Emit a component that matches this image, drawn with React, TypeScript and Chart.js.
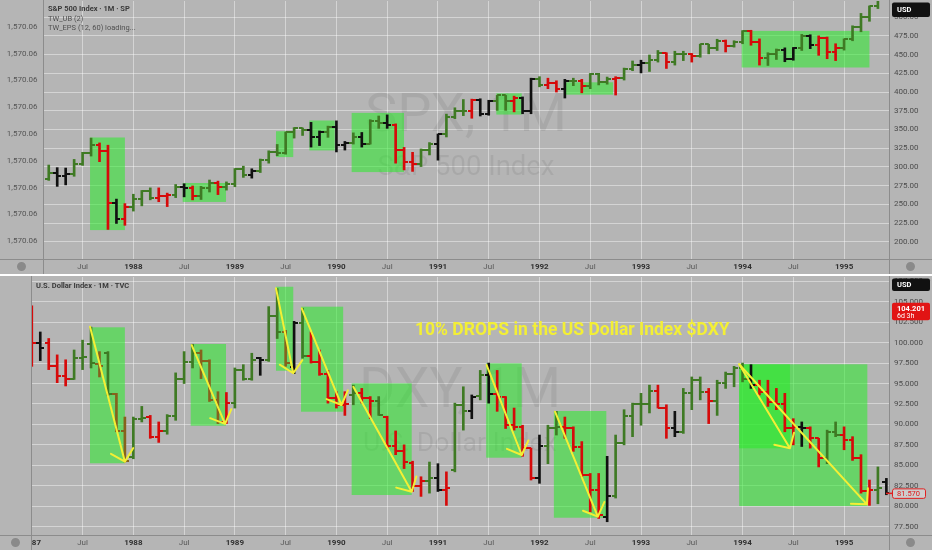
import React, { useEffect, useRef } from 'react';
import { Chart, registerables } from 'chart.js';

Chart.register(...registerables);

// ---------------- DATA ----------------
// month index 0 = Jan 1987
const xTickMonths = [0, 6, 12, 18, 24, 30, 36, 42, 48, 54, 60, 66, 72, 78, 84, 90, 96];
const xTickLabels = ['1987', 'Jul', '1988', 'Jul', '1989', 'Jul', '1990', 'Jul', '1991', 'Jul', '1992', 'Jul', '1993', 'Jul', '1994', 'Jul', '1995'];

const spxTicks = [200, 225, 250, 275, 300, 325, 350, 375, 400, 425, 450, 475, 500];
const spxLeftTicks = [0, 1, 2, 3, 4, 5, 6, 7, 8];
const spxLeftLabel = '1,570.06';
const dxyTicks = [77.5, 80, 82.5, 85, 87.5, 90, 92.5, 95, 97.5, 100, 102.5, 105, 107.5];

const spxOpen = [242.2, 274.1, 284.2, 291.6, 288.4, 290.1, 304.0, 318.7, 329.8, 321.8, 251.8, 230.3,
  247.1, 257.1, 267.8, 258.9, 261.3, 262.2, 273.5, 272.0, 261.5, 271.9, 279.0, 273.7,
  277.7, 297.5, 288.9, 294.9, 309.6, 320.5, 318.0, 346.1, 351.5, 349.2, 340.4, 346.0,
  353.4, 329.1, 331.9, 339.9, 330.8, 361.2, 358.0, 356.2, 322.6, 306.1, 304.0, 322.2,
  330.2, 343.9, 367.1, 375.2, 375.3, 389.8, 371.2, 387.8, 395.4, 387.9, 392.5, 375.2,
  417.0, 408.8, 412.7, 403.7, 415.0, 415.4, 408.1, 424.2, 414.0, 417.8, 418.7, 431.4,
  435.7, 438.8, 443.4, 451.7, 440.2, 450.2, 450.5, 448.1, 463.6, 458.9, 467.8, 461.8,
  466.5, 481.6, 467.1, 445.7, 450.9, 456.5, 444.3, 458.3, 475.5, 462.7, 472.4, 453.7,
  459.3, 470.4, 487.4, 500.7, 514.7, 533.4];
const spxHigh = [281.0, 285.5, 302.5, 299.0, 298.5, 310.0, 319.5, 338.5, 332.0, 329.0, 257.0, 251.0,
  263.5, 268.5, 272.0, 272.0, 265.0, 276.5, 277.5, 274.5, 274.0, 282.5, 281.0, 280.0,
  297.8, 301.0, 297.5, 310.5, 321.5, 330.0, 346.5, 352.5, 352.0, 359.5, 348.0, 354.5,
  361.5, 334.0, 345.5, 346.0, 363.0, 368.0, 369.5, 357.5, 326.0, 319.5, 324.0, 332.5,
  344.0, 370.5, 379.0, 390.0, 390.5, 391.0, 389.0, 395.5, 395.5, 394.5, 393.5, 418.5,
  420.5, 418.5, 415.0, 417.0, 418.5, 417.0, 424.8, 425.0, 420.0, 420.5, 432.0, 441.5,
  442.5, 449.5, 455.5, 452.5, 454.5, 454.5, 451.5, 464.0, 463.8, 470.5, 469.5, 468.5,
  482.0, 482.5, 471.0, 452.5, 457.5, 459.0, 459.5, 477.0, 476.5, 475.0, 473.5, 464.5,
  471.0, 488.5, 505.0, 515.0, 535.0, 551.0];
const spxLow = [242.2, 264.5, 282.0, 274.0, 276.0, 287.5, 302.0, 314.5, 307.0, 216.5, 224.5, 222.0,
  241.0, 248.0, 256.0, 253.5, 247.0, 259.0, 260.0, 256.0, 256.5, 266.5, 263.0, 269.0,
  273.5, 286.0, 285.0, 292.5, 305.0, 315.0, 317.0, 338.5, 342.0, 326.5, 328.5, 339.5,
  320.0, 322.5, 330.5, 326.5, 330.5, 351.5, 351.5, 305.0, 296.0, 294.0, 300.5, 316.0,
  309.0, 340.0, 364.5, 368.5, 365.0, 368.0, 369.0, 375.5, 375.5, 373.5, 371.0, 371.0,
  407.0, 404.5, 400.0, 392.0, 408.5, 399.0, 404.5, 409.5, 410.5, 396.0, 416.0, 428.5,
  425.5, 427.5, 440.0, 431.5, 436.0, 442.0, 440.0, 446.5, 451.0, 455.5, 453.5, 460.0,
  464.5, 462.5, 436.0, 435.5, 443.5, 440.5, 442.5, 455.5, 458.0, 449.0, 444.5, 442.0,
  456.0, 468.5, 480.5, 494.5, 511.5, 528.5];
const spxClose = [274.1, 284.2, 291.7, 288.4, 290.1, 304.0, 318.7, 329.8, 321.8, 251.8, 230.3, 247.1,
  257.1, 267.8, 258.9, 261.3, 262.2, 273.5, 272.0, 261.5, 271.9, 279.0, 273.7, 277.7,
  297.5, 288.9, 294.9, 309.6, 320.5, 318.0, 346.1, 351.5, 349.2, 340.4, 346.0, 353.4,
  329.1, 331.9, 339.9, 330.8, 361.2, 358.0, 356.2, 322.6, 306.1, 304.0, 322.2, 330.2,
  343.9, 367.1, 375.2, 375.3, 389.8, 371.2, 387.8, 395.4, 387.9, 392.5, 375.2, 417.1,
  408.8, 412.7, 403.7, 415.0, 415.4, 408.1, 424.2, 414.0, 417.8, 418.7, 431.4, 435.7,
  438.8, 443.4, 451.7, 440.2, 450.2, 450.5, 448.1, 463.6, 458.9, 467.8, 461.8, 466.5,
  481.6, 467.1, 445.7, 450.9, 456.5, 444.3, 458.3, 475.5, 462.7, 472.4, 453.7, 459.3,
  470.4, 487.4, 500.7, 514.7, 533.4, 544.8];
// g = green, r = red, k = black, o = olive
const spxColors = 'gggkkgggrrkr' + 'gggrrgkrggrg' + 'ggkggggggkkg' + 'kkgkggkrrrgg' +
  'kgggrkkggrkk' + 'grrkgrgggrgg' + 'kggrggrgggrg' + 'grrggkkgkrrr' + 'gggggg';

const dxyOpen = [103.5, 100.0, 100.0, 97.1, 95.9, 95.6, 98.1, 99.8, 97.4, 98.7, 93.7, 89.2,
  86.0, 90.6, 90.9, 88.5, 89.2, 91.0, 95.6, 97.6, 98.7, 97.7, 93.0, 90.3,
  92.6, 96.7, 95.6, 98.1, 97.9, 103.2, 101.3, 97.0, 102.4, 98.4, 97.6, 96.2,
  93.2, 92.4, 93.6, 93.8, 93.2, 92.9, 90.9, 87.3, 86.7, 85.3, 82.5, 83.1,
  83.5, 82.0, 84.4, 92.4, 91.6, 93.5, 96.0, 93.7, 93.3, 89.9, 89.7, 87.1,
  83.4, 87.3, 89.5, 89.7, 89.5, 87.2, 83.8, 82.0, 78.7, 81.2, 87.7, 91.0,
  92.5, 92.5, 94.1, 92.0, 89.5, 89.1, 93.8, 95.4, 94.0, 92.9, 95.1, 96.2,
  96.9, 95.6, 94.8, 94.0, 92.7, 92.5, 89.5, 89.7, 89.5, 88.3, 85.9, 89.1,
  88.7, 88.1, 85.9, 81.8, 82.0, 83.0];
const dxyHigh = [104.5, 101.3, 100.5, 98.5, 97.9, 99.1, 100.3, 101.9, 98.9, 98.9, 93.8, 90.9,
  90.9, 92.2, 91.1, 90.3, 91.2, 96.3, 98.9, 99.8, 99.1, 97.9, 94.0, 93.9,
  96.9, 97.3, 98.7, 98.2, 104.4, 106.6, 101.5, 102.6, 104.2, 101.3, 99.1, 96.6,
  94.0, 94.0, 94.8, 94.4, 93.4, 93.4, 91.0, 89.2, 87.5, 85.5, 83.6, 85.4,
  85.2, 84.2, 92.6, 94.6, 93.6, 96.6, 97.5, 96.6, 93.4, 92.0, 89.9, 87.1,
  88.7, 89.9, 91.6, 90.9, 89.7, 87.9, 84.0, 84.0, 86.1, 88.7, 91.8, 92.6,
  93.8, 94.8, 94.8, 92.4, 91.6, 94.4, 95.8, 95.8, 94.4, 95.4, 96.4, 97.1,
  97.5, 97.3, 95.4, 95.4, 94.4, 93.8, 90.7, 90.3, 89.7, 88.3, 89.3, 90.3,
  89.7, 88.5, 86.3, 83.2, 84.8, 83.4];
const dxyLow = [97.1, 97.8, 96.7, 95.1, 94.7, 95.5, 96.7, 96.9, 95.8, 93.5, 89.1, 85.4,
  85.8, 90.3, 88.3, 87.8, 88.8, 90.5, 95.0, 96.9, 95.6, 92.8, 90.1, 90.1,
  92.0, 95.4, 95.4, 96.0, 97.7, 100.5, 97.1, 96.2, 98.1, 97.5, 96.0, 92.6,
  92.0, 91.1, 92.4, 92.6, 90.7, 91.1, 87.1, 86.3, 84.6, 81.8, 81.2, 81.6,
  81.8, 80.1, 84.2, 89.3, 90.7, 93.0, 92.6, 91.6, 89.5, 89.3, 86.1, 83.2,
  82.8, 85.2, 88.7, 88.3, 86.7, 83.6, 79.3, 78.5, 78.1, 81.0, 87.5, 88.5,
  89.9, 91.4, 92.0, 88.3, 88.5, 88.9, 91.8, 93.0, 90.1, 91.1, 94.4, 94.6,
  95.2, 94.4, 93.6, 92.2, 91.8, 89.1, 87.5, 87.3, 87.1, 84.8, 85.2, 88.5,
  86.9, 85.6, 81.6, 80.1, 80.3, 81.4];
const dxyClose = [100.0, 99.3, 97.1, 95.9, 95.6, 98.1, 98.2, 97.5, 97.2, 93.7, 89.2, 85.5,
  90.6, 90.8, 88.5, 89.2, 91.0, 95.6, 97.6, 98.7, 97.7, 93.0, 90.3, 92.6,
  96.7, 95.6, 97.9, 97.9, 103.2, 101.3, 97.5, 102.4, 98.4, 97.6, 96.2, 93.2,
  92.4, 92.5, 93.8, 93.2, 92.9, 91.2, 87.3, 86.7, 85.4, 82.5, 83.1, 83.5,
  82.0, 82.2, 92.4, 91.6, 93.3, 96.0, 93.7, 93.3, 89.9, 89.7, 87.1, 83.5,
  87.3, 89.5, 89.7, 89.5, 87.2, 83.8, 82.0, 78.9, 81.2, 87.7, 91.0, 92.5,
  92.5, 94.1, 92.0, 89.5, 89.1, 93.8, 95.4, 94.0, 92.9, 95.1, 96.2, 96.9,
  95.6, 94.8, 94.0, 92.7, 92.5, 89.5, 89.7, 89.5, 88.3, 85.9, 89.1, 88.7,
  88.1, 85.9, 81.8, 82.0, 82.2, 81.57];
const dxyColors = 'rkrrrgggogoo' + 'ggrrggggooor' + 'gggkggokgrrr' + 'rrgrrgrrrrrg' +
  'krggkgkrrrrr' + 'kggrrrrrkggg' + 'ggrrkgggrggg' + 'gkrrrrrkrrgg' + 'rrrrgk';

// highlight rectangles: [startMonth, endMonth, topValue, bottomValue]
const spxBoxes = [
  [6.88, 11.0, 339.3, 215.6],
  [17.83, 22.95, 278.5, 253.2],
  [28.86, 30.9, 347.7, 313.1],
  [32.8, 35.8, 362.0, 322.0],
  [37.8, 43.99, 372.2, 293.1],
  [54.9, 57.9, 398.3, 369.9],
  [63.0, 68.7, 413.0, 396.5],
  [83.9, 99.0, 481.7, 432.8],
];
const dxyBoxes = [
  [6.88, 11.0, 101.87, 85.25],
  [18.78, 22.95, 99.83, 89.84],
  [28.86, 30.9, 106.83, 96.56],
  [31.82, 36.8, 104.39, 91.55],
  [37.8, 44.9, 95.02, 81.37],
  [53.7, 57.9, 97.47, 85.93],
  [61.7, 67.9, 91.64, 78.59],
  [83.6, 98.75, 97.35, 80.02],
  [83.6, 89.6, 97.35, 87.08],
];
// drop arrows: [startMonth, startValue, endMonth, endValue]
const dxyArrows = [
  [6.88, 101.94, 11.0, 85.44],
  [18.9, 99.7, 22.84, 90.06],
  [28.86, 106.64, 30.9, 96.25],
  [31.9, 104.19, 36.6, 92.37],
  [38.0, 94.6, 44.9, 81.77],
  [53.76, 97.26, 57.9, 86.26],
  [61.84, 91.55, 66.9, 78.72],
  [83.6, 97.35, 89.6, 87.08],
  [83.6, 97.35, 98.7, 80.23],
];
const dxyLastPrice = 81.57;
const dxyLivePrice = 104.201;
const headline = '10% DROPS in the US Dollar Index $DXY';

// ---------------- STYLE ----------------
const FONT = 'Roboto, "Liberation Sans", sans-serif';
const BG = '#b5b5b5';
const GRID = 'rgba(255,255,255,0.42)';
const AXIS_LINE = '#8c8c8c';
const BAR_COLORS: Record<string, string> = { g: '#3f7a24', r: '#d60a0a', k: '#111111', o: '#86621c' };
const BOX_FILL = 'rgba(40,235,40,0.55)';
const ARROW = '#f3ef35';

function tickImage(color: string, side: 'open' | 'close') {
  const c = document.createElement('canvas');
  c.width = 8;
  c.height = 2;
  const g = c.getContext('2d')!;
  g.fillStyle = color;
  if (side === 'open') g.fillRect(0, 0, 4, 2);
  else g.fillRect(4, 0, 4, 2);
  return c;
}

function drawArrow(ctx: CanvasRenderingContext2D, x0: number, y0: number, x1: number, y1: number) {
  const ang = Math.atan2(y0 - y1, x0 - x1);
  const L = 16;
  const spread = (46 * Math.PI) / 180;
  ctx.beginPath();
  ctx.moveTo(x0, y0);
  ctx.lineTo(x1, y1);
  ctx.moveTo(x1 + L * Math.cos(ang - spread), y1 + L * Math.sin(ang - spread));
  ctx.lineTo(x1, y1);
  ctx.lineTo(x1 + L * Math.cos(ang + spread), y1 + L * Math.sin(ang + spread));
  ctx.stroke();
}

function badge(ctx: CanvasRenderingContext2D, x: number, y: number, w: number, h: number, fill: string, stroke?: string) {
  ctx.beginPath();
  (ctx as any).roundRect(x, y, w, h, 2);
  ctx.fillStyle = fill;
  ctx.fill();
  if (stroke) {
    ctx.strokeStyle = stroke;
    ctx.lineWidth = 1;
    ctx.stroke();
  }
}

function buildConfig(spec: any) {
  const n = spec.close.length;
  const openImgs: Record<string, HTMLCanvasElement> = {};
  const closeImgs: Record<string, HTMLCanvasElement> = {};
  Object.keys(BAR_COLORS).forEach((k) => {
    openImgs[k] = tickImage(BAR_COLORS[k], 'open');
    closeImgs[k] = tickImage(BAR_COLORS[k], 'close');
  });
  const colorKey = (i: number) => spec.colors[i] || 'g';
  const idx = Array.from({ length: n }, (_, i) => i);

  const plugin = {
    id: 'pane_' + spec.key,
    beforeDatasetsDraw(chart: any) {
      const { ctx, chartArea: a, scales } = chart;
      const xs = scales.x;
      const ys = scales.y;
      ctx.save();
      ctx.beginPath();
      ctx.rect(a.left, a.top, a.right - a.left, a.bottom - a.top);
      ctx.clip();
      const cx = (a.left + a.right) / 2;
      ctx.fillStyle = 'rgba(0,0,0,0.07)';
      ctx.textAlign = 'center';
      ctx.textBaseline = 'alphabetic';
      ctx.font = `50px ${FONT}`;
      const s1 = (50 * 202) / ctx.measureText(spec.watermark[0]).width;
      ctx.font = `${s1}px ${FONT}`;
      ctx.fillText(spec.watermark[0], cx, a.top + 130);
      ctx.font = `28px ${FONT}`;
      const s2 = (28 * spec.wm2Width) / ctx.measureText(spec.watermark[1]).width;
      ctx.font = `${s2}px ${FONT}`;
      ctx.fillText(spec.watermark[1], cx, a.top + 174);
      ctx.fillStyle = BOX_FILL;
      for (const [m0, m1, v0, v1] of spec.boxes) {
        const px0 = xs.getPixelForValue(m0);
        const px1 = xs.getPixelForValue(m1);
        const py0 = ys.getPixelForValue(v0);
        const py1 = ys.getPixelForValue(v1);
        ctx.fillRect(px0, py0, px1 - px0, py1 - py0);
      }
      ctx.restore();
    },
    afterDatasetsDraw(chart: any) {
      const { ctx, chartArea: a, scales } = chart;
      const xs = scales.x;
      const ys = scales.y;
      ctx.save();
      ctx.beginPath();
      ctx.rect(a.left, a.top, a.right - a.left, a.bottom - a.top);
      ctx.clip();
      ctx.strokeStyle = ARROW;
      ctx.lineWidth = 2;
      ctx.lineCap = 'round';
      ctx.lineJoin = 'round';
      for (const [m0, v0, m1, v1] of spec.arrows) {
        drawArrow(ctx, xs.getPixelForValue(m0), ys.getPixelForValue(v0), xs.getPixelForValue(m1), ys.getPixelForValue(v1));
      }
      if (spec.headline) {
        ctx.font = `bold 17px ${FONT}`;
        const hs = (17 * 315) / ctx.measureText(spec.headline).width;
        ctx.font = `bold ${hs}px ${FONT}`;
        ctx.fillStyle = ARROW;
        ctx.textAlign = 'left';
        ctx.textBaseline = 'alphabetic';
        ctx.fillText(spec.headline, 415, a.top + 57.5);
      }
      ctx.restore();
    },
    afterDraw(chart: any) {
      const { ctx, chartArea: a, width: W, height: H, scales } = chart;
      ctx.save();
      // side panels of the time-axis row hide labels running past the pane
      ctx.fillStyle = BG;
      ctx.fillRect(0, a.bottom, a.left, H - a.bottom);
      ctx.fillRect(a.right, a.bottom, W - a.right, H - a.bottom);
      // pane borders
      ctx.strokeStyle = AXIS_LINE;
      ctx.lineWidth = 1;
      ctx.beginPath();
      const lx = Math.round(a.left) + 0.5;
      const rx = Math.round(a.right) + 0.5;
      const by = Math.round(a.bottom) + 0.5;
      ctx.moveTo(lx, 0); ctx.lineTo(lx, H);
      ctx.moveTo(rx, 0); ctx.lineTo(rx, H);
      ctx.moveTo(0, by); ctx.lineTo(W, by);
      ctx.stroke();
      // header
      ctx.textAlign = 'left';
      ctx.textBaseline = 'alphabetic';
      spec.header.forEach((t: string, i: number) => {
        ctx.font = i === 0 ? `bold 7.5px ${FONT}` : `7.5px ${FONT}`;
        ctx.fillStyle = i === 0 ? '#3a3a3a' : '#505050';
        ctx.fillText(t, spec.headerX, spec.headerY + i * 9.5);
      });
      // currency badge
      badge(ctx, 892, spec.usdY, 38, spec.usdH, '#111111');
      ctx.fillStyle = '#ffffff';
      ctx.font = `bold 7.5px ${FONT}`;
      ctx.textBaseline = 'middle';
      ctx.fillText('USD', 897, spec.usdY + spec.usdH / 2 + 0.5);
      // price badges (bottom pane)
      if (spec.live) {
        const ys = scales.y;
        const py = ys.getPixelForValue(dxyLivePrice);
        badge(ctx, 892, py - 5.5, 38, 17.5, '#e11414');
        ctx.fillStyle = '#ffffff';
        ctx.font = `bold 7.5px ${FONT}`;
        ctx.fillText(dxyLivePrice.toFixed(3), 897, py + 0.5);
        ctx.font = `7px ${FONT}`;
        ctx.fillText('6d 3h', 897, py + 8);
        const lp = ys.getPixelForValue(dxyLastPrice);
        ctx.strokeStyle = '#e02020';
        ctx.lineWidth = 1.5;
        ctx.beginPath();
        ctx.moveTo(886, lp);
        ctx.lineTo(892, lp);
        ctx.stroke();
        badge(ctx, 892.5, lp - 4.5, 33, 9.5, '#cdcdcd', '#e02020');
        ctx.fillStyle = '#e01818';
        ctx.font = `7.5px ${FONT}`;
        ctx.fillText(dxyLastPrice.toFixed(3), 897, lp + 0.5);
      }
      // corner circles
      ctx.fillStyle = '#8a8a8a';
      const cy = (a.bottom + H) / 2;
      ctx.beginPath();
      ctx.arc(a.left / 2, cy, 4.5, 0, Math.PI * 2);
      ctx.arc((a.right + W) / 2, cy, 4.5, 0, Math.PI * 2);
      ctx.fill();
      ctx.restore();
    },
  };

  return {
    type: 'bar' as const,
    data: {
      datasets: [
        {
          type: 'bar' as const,
          data: idx.map((i) => ({ x: i, y: [spec.low[i], spec.high[i]] })),
          backgroundColor: idx.map((i) => BAR_COLORS[colorKey(i)]),
          barThickness: 2,
          borderWidth: 0,
          clip: 0,
          xAxisID: 'x',
          yAxisID: 'y',
        },
        {
          type: 'scatter' as const,
          data: idx.map((i) => ({ x: i, y: spec.open[i] })),
          pointStyle: (c: any) => openImgs[colorKey(c.dataIndex)],
          pointRadius: 1,
          pointHoverRadius: 1,
          pointBorderWidth: 0,
          clip: 0,
          xAxisID: 'x',
          yAxisID: 'y',
        },
        {
          type: 'scatter' as const,
          data: idx.map((i) => ({ x: i, y: spec.close[i] })),
          pointStyle: (c: any) => closeImgs[colorKey(c.dataIndex)],
          pointRadius: 1,
          pointHoverRadius: 1,
          pointBorderWidth: 0,
          clip: 0,
          xAxisID: 'x',
          yAxisID: 'y',
        },
      ],
    },
    options: {
      animation: false as const,
      responsive: false,
      devicePixelRatio: 1,
      events: [],
      layout: { padding: { top: spec.padTop, left: 0, right: 0, bottom: 0 } },
      plugins: { legend: { display: false }, tooltip: { enabled: false }, title: { display: false } },
      scales: {
        x: {
          type: 'linear' as const,
          position: 'bottom' as const,
          min: spec.xMin,
          max: spec.xMax,
          offset: false,
          grid: { color: GRID, drawTicks: false, offset: false },
          border: { display: false },
          afterBuildTicks: (s: any) => {
            s.ticks = xTickMonths.filter((v) => v >= s.min && v <= s.max).map((v) => ({ value: v }));
          },
          afterFit: (s: any) => {
            s.height = 15;
            s.paddingLeft = 0;
            s.paddingRight = 0;
          },
          ticks: {
            autoSkip: false,
            maxRotation: 0,
            minRotation: 0,
            padding: 3.5,
            callback: (v: any) => xTickLabels[xTickMonths.indexOf(Number(v))],
            font: (c: any) => ({
              family: FONT,
              size: 8,
              weight: c.tick && xTickLabels[xTickMonths.indexOf(c.tick.value)] !== 'Jul' ? 'bold' : 'normal',
            }),
            color: (c: any) =>
              c.tick && xTickLabels[xTickMonths.indexOf(c.tick.value)] !== 'Jul' ? '#303030' : '#585858',
          },
        },
        y: {
          type: 'linear' as const,
          position: 'right' as const,
          min: spec.yMin,
          max: spec.yMax,
          grid: { color: GRID, drawTicks: false },
          border: { display: false },
          afterBuildTicks: (s: any) => {
            s.ticks = spec.yTicks.map((v: number) => ({ value: v }));
          },
          afterFit: (s: any) => {
            s.width = 43;
            s.paddingTop = 0;
            s.paddingBottom = 0;
          },
          ticks: {
            padding: 5,
            font: { family: FONT, size: 8 },
            color: '#4c4c4c',
            callback: (v: any) => Number(v).toFixed(spec.yDecimals),
          },
        },
        yl: {
          type: 'linear' as const,
          position: 'left' as const,
          min: spec.leftMin,
          max: spec.leftMax,
          grid: { display: false, drawTicks: false },
          border: { display: false },
          afterBuildTicks: (s: any) => {
            s.ticks = spec.leftTicks.map((v: number) => ({ value: v }));
          },
          afterFit: (s: any) => {
            s.width = spec.leftWidth;
            s.paddingTop = 0;
            s.paddingBottom = 0;
          },
          ticks: {
            display: spec.leftTicks.length > 0,
            padding: 5.5,
            font: { family: FONT, size: 8 },
            color: '#555555',
            callback: () => spxLeftLabel,
          },
        },
      },
    },
    plugins: [plugin],
  };
}

const topSpec = {
  key: 'spx',
  open: spxOpen, high: spxHigh, low: spxLow, close: spxClose, colors: spxColors,
  xMin: 1.32, xMax: 101.31,
  yMin: 177.0, yMax: 521.6, yTicks: spxTicks, yDecimals: 2,
  leftMin: -0.67, leftMax: 8.967, leftTicks: spxLeftTicks, leftWidth: 43,
  padTop: 0,
  boxes: spxBoxes, arrows: [],
  watermark: ['SPX, 1M', 'S&P 500 Index'], wm2Width: 177,
  header: ['S&P 500 Index · 1M · SP', 'TW_UB (2)', 'TW_EPS (12, 60) loading...'],
  headerX: 48, headerY: 11,
  usdY: 2.5, usdH: 14.5,
  live: false,
  headline: '',
};

const bottomSpec = {
  key: 'dxy',
  open: dxyOpen, high: dxyHigh, low: dxyLow, close: dxyClose, colors: dxyColors,
  xMin: -0.095, xMax: 101.31,
  yMin: 76.48, yMax: 108.02, yTicks: dxyTicks, yDecimals: 3,
  leftMin: 0, leftMax: 1, leftTicks: [], leftWidth: 31,
  padTop: 1,
  boxes: dxyBoxes, arrows: dxyArrows,
  watermark: ['DXY, 1M', 'U.S. Dollar Index'], wm2Width: 194,
  header: ['U.S. Dollar Index · 1M · TVC'],
  headerX: 36, headerY: 12,
  usdY: 2.5, usdH: 12.5,
  live: true,
  headline,
};

function Pane({ spec, top, height }: { spec: any; top: number; height: number }) {
  const ref = useRef<HTMLCanvasElement>(null);
  useEffect(() => {
    const chart = new Chart(ref.current as HTMLCanvasElement, buildConfig(spec) as any);
    return () => chart.destroy();
  }, [spec]);
  return (
    <canvas
      ref={ref}
      width={932}
      height={height}
      style={{ position: 'absolute', left: 0, top, width: 932, height, background: BG, display: 'block' }}
    />
  );
}

export default function App() {
  return (
    <div style={{ position: 'fixed', left: 0, top: 0, width: 932, height: 550, background: '#ffffff', overflow: 'hidden' }}>
      <Pane spec={topSpec} top={0} height={274} />
      <Pane spec={bottomSpec} top={276} height={274} />
    </div>
  );
}
